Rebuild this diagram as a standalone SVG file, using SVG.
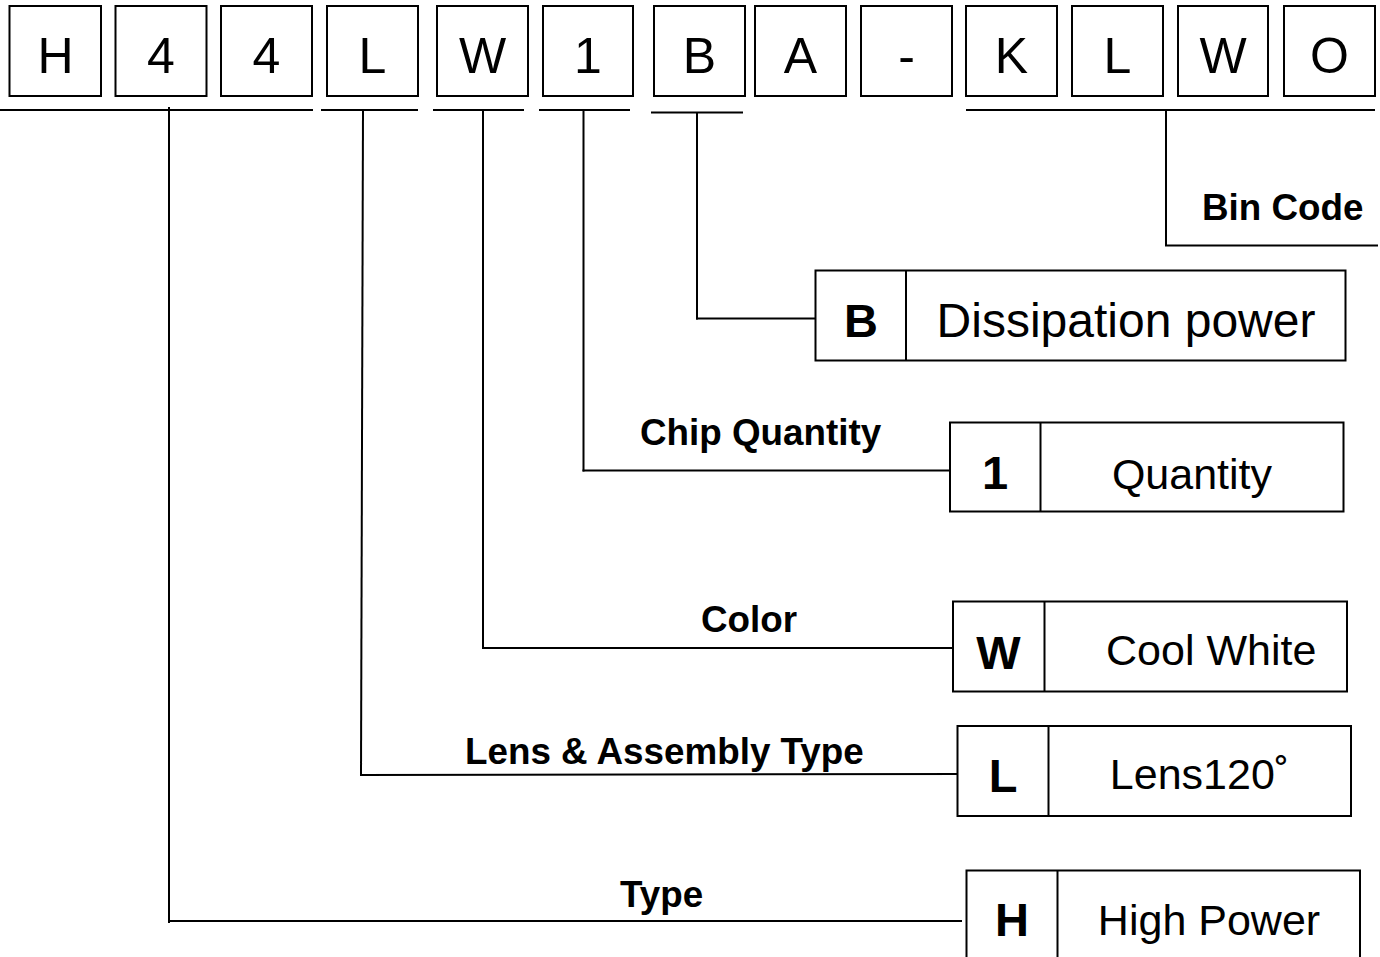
<svg xmlns="http://www.w3.org/2000/svg" width="1380" height="957" viewBox="0 0 1380 957">
<style>
  .box { fill: #fff; stroke: #000; stroke-width: 2; }
  .ln { fill: none; stroke: #000; stroke-width: 2; }
  .code { font-family: "Liberation Sans", Arial, sans-serif; font-size: 50px; text-anchor: middle; fill: #000; }
  .key { font-family: "Liberation Sans", Arial, sans-serif; font-size: 47px; font-weight: bold; text-anchor: middle; fill: #000; }
  .desc { font-family: "Liberation Sans", Arial, sans-serif; font-size: 43px; fill: #000; }
  .lbl { font-family: "Liberation Sans", Arial, sans-serif; font-size: 36.8px; font-weight: bold; fill: #000; }
</style>
<rect width="1380" height="957" fill="#fff"/>

<g id="code">
  <g id="c-H"><rect class="box" x="9.5" y="6" width="91.5" height="90"/><text class="code" x="55.5" y="73">H</text></g>
  <g id="c-4a"><rect class="box" x="115.5" y="6" width="91" height="90"/><text class="code" x="161" y="73">4</text></g>
  <g id="c-4b"><rect class="box" x="221" y="6" width="91" height="90"/><text class="code" x="266.5" y="73">4</text></g>
  <g id="c-L"><rect class="box" x="327" y="6" width="91" height="90"/><text class="code" x="372.5" y="73">L</text></g>
  <g id="c-W"><rect class="box" x="437" y="6" width="91" height="90"/><text class="code" x="482.5" y="73">W</text></g>
  <g id="c-1"><rect class="box" x="543" y="6" width="90" height="90"/><text class="code" x="588" y="73">1</text></g>
  <g id="c-B"><rect class="box" x="654" y="6" width="91" height="90"/><text class="code" x="699.5" y="73">B</text></g>
  <g id="c-A"><rect class="box" x="755" y="6" width="91" height="90"/><text class="code" x="800.5" y="73">A</text></g>
  <g id="c-dash"><rect class="box" x="861" y="6" width="91" height="90"/><text class="code" x="906.5" y="73">-</text></g>
  <g id="c-K"><rect class="box" x="966" y="6" width="91" height="90"/><text class="code" x="1011.5" y="73">K</text></g>
  <g id="c-L2"><rect class="box" x="1072" y="6" width="91" height="90"/><text class="code" x="1117.5" y="73">L</text></g>
  <g id="c-W2"><rect class="box" x="1178" y="6" width="90" height="90"/><text class="code" x="1223" y="73">W</text></g>
  <g id="c-O"><rect class="box" x="1284" y="6" width="91" height="90"/><text class="code" x="1329.5" y="73">O</text></g>
</g>

<g id="connectors">
  <line class="ln" x1="0" y1="110" x2="313" y2="110"/>
  <line class="ln" x1="169" y1="107" x2="169" y2="923"/>
  <line class="ln" x1="169" y1="921" x2="962" y2="921"/>

  <line class="ln" x1="321" y1="110" x2="418" y2="110"/>
  <line class="ln" x1="363" y1="110" x2="361" y2="776"/>
  <line class="ln" x1="360" y1="775" x2="962" y2="774"/>

  <line class="ln" x1="433" y1="110" x2="524" y2="110"/>
  <line class="ln" x1="483" y1="110" x2="483" y2="649"/>
  <line class="ln" x1="482" y1="648" x2="953" y2="648"/>

  <line class="ln" x1="539" y1="110" x2="630" y2="110"/>
  <line class="ln" x1="583.5" y1="110" x2="583.5" y2="471.5"/>
  <line class="ln" x1="582.5" y1="470.5" x2="950" y2="470.5"/>

  <line class="ln" x1="651" y1="112.5" x2="743" y2="112.5"/>
  <line class="ln" x1="697" y1="112.5" x2="697" y2="319.5"/>
  <line class="ln" x1="696" y1="318.5" x2="816" y2="318.5"/>

  <line class="ln" x1="966" y1="110" x2="1375" y2="110"/>
  <line class="ln" x1="1166" y1="110" x2="1166" y2="246"/>
  <line class="ln" x1="1165" y1="245.5" x2="1378" y2="245.5"/>
</g>

<g id="labels">
  <text class="lbl" x="1202" y="220">Bin Code</text>
  <text class="lbl" x="640" y="445">Chip Quantity</text>
  <text class="lbl" x="701" y="632">Color</text>
  <text class="lbl" x="465" y="764">Lens &amp; Assembly Type</text>
  <text class="lbl" x="620" y="907">Type</text>
</g>

<g id="n-B">
  <rect class="box" x="815.5" y="270.5" width="530" height="90"/>
  <line class="ln" x1="906" y1="270.5" x2="906" y2="360.5"/>
  <text class="key" x="861" y="337">B</text>
  <text class="desc" x="1126" y="337" text-anchor="middle" style="font-size:48px">Dissipation power</text>
</g>

<g id="n-1">
  <rect class="box" x="950" y="422.5" width="393.5" height="89"/>
  <line class="ln" x1="1040.5" y1="422.5" x2="1040.5" y2="511.5"/>
  <text class="key" x="995" y="489">1</text>
  <text class="desc" x="1192" y="489" text-anchor="middle">Quantity</text>
</g>

<g id="n-W">
  <rect class="box" x="953" y="601.5" width="394" height="90"/>
  <line class="ln" x1="1044.5" y1="601.5" x2="1044.5" y2="691.5"/>
  <text class="key" x="998.5" y="669">W</text>
  <text class="desc" x="1106" y="665">Cool White</text>
</g>

<g id="n-L">
  <rect class="box" x="957.5" y="726" width="393.5" height="90"/>
  <line class="ln" x1="1048.5" y1="726" x2="1048.5" y2="816"/>
  <text class="key" x="1003" y="792">L</text>
  <text class="desc" x="1199.5" y="789" text-anchor="middle">Lens120˚</text>
</g>

<g id="n-H">
  <rect class="box" x="966.5" y="870.5" width="393.5" height="100"/>
  <line class="ln" x1="1057.5" y1="870.5" x2="1057.5" y2="970"/>
  <text class="key" x="1012" y="935.5">H</text>
  <text class="desc" x="1209" y="935" text-anchor="middle">High Power</text>
</g>
</svg>
